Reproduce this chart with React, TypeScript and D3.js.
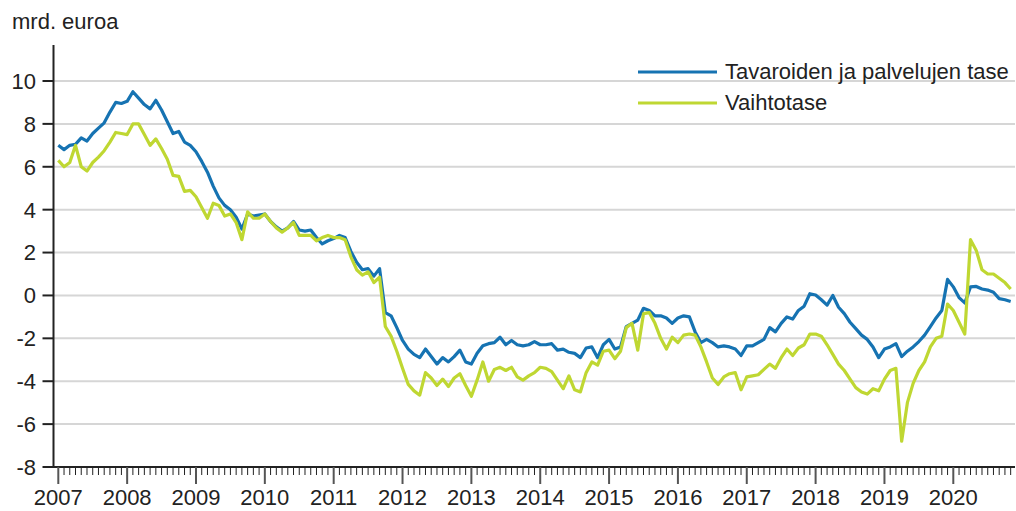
import * as d3 from "d3";

// monthly values, Jan 2007 - Nov 2020 (mrd. euroa)
const tavaroidenJaPalvelujenTase = [
  7.0, 6.8, 7.0, 7.05, 7.35, 7.2, 7.55, 7.8, 8.05, 8.55, 9.0, 8.95, // 2007
  9.05, 9.5, 9.2, 8.9, 8.7, 9.1, 8.65, 8.1, 7.55, 7.65, 7.15, 7.0, // 2008
  6.7, 6.25, 5.75, 5.1, 4.55, 4.2, 4.0, 3.65, 3.1, 3.8, 3.7, 3.75, // 2009
  3.8, 3.45, 3.2, 3.0, 3.15, 3.45, 3.05, 3.0, 3.05, 2.7, 2.4, 2.55, // 2010
  2.65, 2.8, 2.7, 2.05, 1.55, 1.2, 1.25, 0.9, 1.25, -0.8, -0.95, -1.5, // 2011
  -2.1, -2.5, -2.75, -2.9, -2.5, -2.85, -3.2, -2.9, -3.1, -2.85, -2.55, -3.1, // 2012
  -3.2, -2.7, -2.35, -2.25, -2.2, -1.95, -2.3, -2.1, -2.3, -2.35, -2.3, -2.15, // 2013
  -2.3, -2.3, -2.25, -2.55, -2.5, -2.65, -2.7, -2.9, -2.45, -2.4, -2.9, -2.3, // 2014
  -2.05, -2.5, -2.4, -1.45, -1.3, -1.15, -0.6, -0.7, -0.95, -0.95, -1.05, -1.3, // 2015
  -1.05, -0.95, -1.0, -1.7, -2.2, -2.05, -2.2, -2.4, -2.35, -2.4, -2.5, -2.8, // 2016
  -2.35, -2.35, -2.2, -2.05, -1.5, -1.7, -1.3, -1.0, -1.1, -0.7, -0.5, 0.08, // 2017
  0.02, -0.2, -0.45, 0.0, -0.55, -0.85, -1.25, -1.55, -1.85, -2.05, -2.4, -2.9, // 2018
  -2.5, -2.4, -2.25, -2.85, -2.6, -2.4, -2.15, -1.85, -1.45, -1.05, -0.7, 0.75, // 2019
  0.4, -0.1, -0.35, 0.4, 0.42, 0.3, 0.25, 0.15, -0.15, -0.2, -0.28, // 2020
];

const vaihtotase = [
  6.3, 6.0, 6.2, 7.0, 6.0, 5.8, 6.2, 6.45, 6.75, 7.15, 7.6, 7.55, // 2007
  7.5, 8.0, 8.0, 7.5, 7.0, 7.3, 6.85, 6.35, 5.6, 5.55, 4.85, 4.9, // 2008
  4.6, 4.1, 3.6, 4.3, 4.2, 3.7, 3.8, 3.4, 2.6, 3.9, 3.6, 3.6, // 2009
  3.8, 3.45, 3.15, 2.95, 3.15, 3.4, 2.8, 2.8, 2.8, 2.55, 2.7, 2.8, // 2010
  2.7, 2.7, 2.6, 1.8, 1.2, 0.95, 1.1, 0.6, 0.85, -1.45, -1.9, -2.6, // 2011
  -3.4, -4.15, -4.45, -4.65, -3.6, -3.85, -4.2, -3.9, -4.25, -3.85, -3.65, -4.2, // 2012
  -4.7, -3.95, -3.1, -4.0, -3.45, -3.35, -3.5, -3.35, -3.8, -3.95, -3.75, -3.6, // 2013
  -3.35, -3.4, -3.55, -3.95, -4.35, -3.75, -4.4, -4.5, -3.6, -3.1, -3.25, -2.6, // 2014
  -2.55, -2.95, -2.6, -1.5, -1.3, -2.55, -0.85, -0.8, -1.3, -2.0, -2.5, -1.95, // 2015
  -2.2, -1.85, -1.8, -1.85, -2.4, -3.1, -3.85, -4.15, -3.8, -3.65, -3.6, -4.4, // 2016
  -3.8, -3.75, -3.7, -3.45, -3.2, -3.4, -2.9, -2.5, -2.8, -2.45, -2.3, -1.8, // 2017
  -1.8, -1.9, -2.3, -2.75, -3.2, -3.5, -3.9, -4.3, -4.5, -4.6, -4.35, -4.45, // 2018
  -3.9, -3.5, -3.4, -6.8, -5.0, -4.1, -3.5, -3.1, -2.4, -2.0, -1.9, -0.4, // 2019
  -0.7, -1.25, -1.8, 2.6, 2.1, 1.2, 1.0, 1.0, 0.8, 0.6, 0.3, // 2020
];

const yearLabels = ["2007", "2008", "2009", "2010", "2011", "2012", "2013", "2014", "2015", "2016", "2017", "2018", "2019", "2020"];
const yTicks = [-8, -6, -4, -2, 0, 2, 4, 6, 8, 10];
const seriesNames = ["Tavaroiden ja palvelujen tase", "Vaihtotase"];
const colors = ["#1673b2", "#bfd732"];

const FONT = "'Liberation Sans', Arial, sans-serif";

export default function App() {
  const width = 1016;
  const height = 511;

  // x by month index, 0 = Jan 2007
  const x = d3.scaleLinear().domain([0, 156]).range([58.3, 953.3]);
  const y = d3.scaleLinear().domain([-8, 10]).range([467, 81]);
  const axisLeft = 53.5;
  const plotRight = 1015;

  const line = d3
    .line<number>()
    .x((_, i) => x(i))
    .y((d) => y(d));

  const monthTicks = d3.range(167);
  const series = [tavaroidenJaPalvelujenTase, vaihtotase];

  return (
    <svg
      width={width}
      height={height}
      style={{ position: "absolute", left: 0, top: 0, background: "#fff" }}
      fontFamily={FONT}
    >
      <text x={12} y={29} fontSize={22} fill="#222">
        mrd. euroa
      </text>

      {/* gridlines */}
      {yTicks
        .filter((t) => t > -8)
        .map((t) => (
          <line key={"g" + t} x1={axisLeft} x2={plotRight} y1={y(t)} y2={y(t)} stroke="#d6d6d6" strokeWidth={2} />
        ))}

      {/* y axis */}
      <line x1={axisLeft} x2={axisLeft} y1={45} y2={y(-8) + 1} stroke="#222" strokeWidth={2} />
      {yTicks.map((t) => (
        <g key={"y" + t}>
          <line x1={axisLeft - 11} x2={axisLeft} y1={y(t)} y2={y(t)} stroke="#222" strokeWidth={2} />
          <text x={36} y={y(t)} dy="0.36em" textAnchor="end" fontSize={22} fill="#222">
            {t}
          </text>
        </g>
      ))}

      {/* series */}
      {series.map((s, k) => (
        <path key={k} d={line(s) || ""} fill="none" stroke={colors[k]} strokeWidth={3.2} strokeLinejoin="round" />
      ))}

      {/* x axis */}
      <line x1={axisLeft - 1} x2={plotRight} y1={y(-8)} y2={y(-8)} stroke="#222" strokeWidth={2} />
      {monthTicks.map((m) =>
        m % 12 === 0 ? (
          <line key={"m" + m} x1={x(m)} x2={x(m)} y1={y(-8)} y2={y(-8) + 17} stroke="#555" strokeWidth={2} />
        ) : (
          <line key={"m" + m} x1={x(m)} x2={x(m)} y1={y(-8)} y2={y(-8) + 8} stroke="#222" strokeWidth={1} />
        )
      )}
      {yearLabels.map((lab, i) => (
        <text key={lab} x={x(i * 12)} y={505} textAnchor="middle" fontSize={22} fill="#222">
          {lab}
        </text>
      ))}

      {/* legend */}
      {seriesNames.map((name, k) => (
        <g key={name}>
          <line x1={638} x2={717} y1={72 + k * 31} y2={72 + k * 31} stroke={colors[k]} strokeWidth={3.2} />
          <text x={725} y={79 + k * 31} fontSize={22} fill="#222">
            {name}
          </text>
        </g>
      ))}
    </svg>
  );
}
